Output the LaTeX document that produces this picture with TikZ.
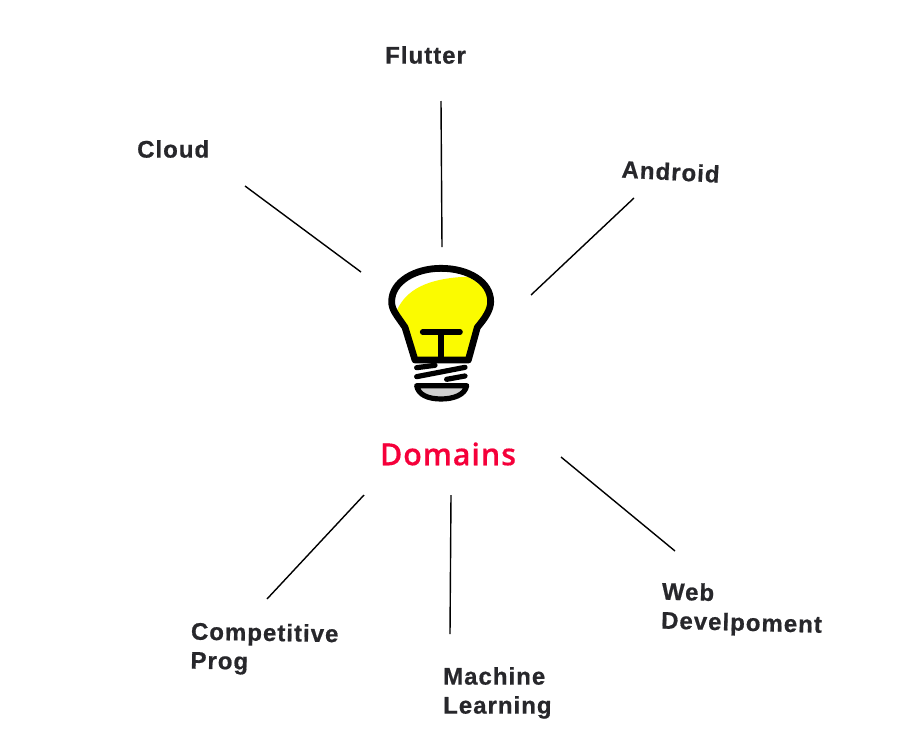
\documentclass[tikz,border=0pt]{standalone}
\usepackage{fontspec}
\setmainfont{Liberation Sans}
\newfontfamily\labfont[LetterSpace=4.2,FakeBold=0.7]{Liberation Sans Bold}
\newfontfamily\domfont[LetterSpace=3,FakeBold=0.4]{Open Sans Semibold}
\definecolor{labelgray}{HTML}{27272B}
\definecolor{domred}{HTML}{F5003A}
\definecolor{bulbyellow}{HTML}{FBFB00}
\definecolor{bulbgray}{HTML}{CFCFCF}
\tikzset{
  spoke/.style={draw=black,line width=1.4pt},
  lab/.style={inner sep=0pt,align=left,anchor=north west,text=labelgray,font=\labfont\fontsize{24}{29}\selectfont},
  bulbline/.style={draw=black,line cap=round,line join=round}
}
\begin{document}
\begin{tikzpicture}[x=1pt,y=-1pt]
\useasboundingbox (0,0) rectangle (908,747);
% bulb
\begin{scope}[shift={(370,250)},x=0.3333pt,y=-0.3333pt]
  \path[fill=white] (135,330) -- (100,225) .. controls (75,195) and (65,180) .. (65,155)
     .. controls (65,95) and (135,55) .. (213,55)
     .. controls (295,55) and (362,95) .. (362,155)
     .. controls (362,180) and (345,205) .. (328,225) -- (295,330) -- cycle;
  \path[fill=bulbyellow] (135,330) -- (100,225) .. controls (92,212) and (85,200) .. (82,178)
     .. controls (110,120) and (170,85) .. (292,80)
     .. controls (335,100) and (362,130) .. (362,155)
     .. controls (362,180) and (345,205) .. (328,225) -- (295,330) -- cycle;
  \draw[bulbline,line width=6.8pt] (135,330) -- (105,232) .. controls (80,195) and (65,180) .. (65,155)
     .. controls (65,95) and (135,55) .. (213,55)
     .. controls (295,55) and (362,95) .. (362,155)
     .. controls (362,180) and (345,205) .. (322,232) -- (295,330) -- cycle;
  \draw[bulbline,line width=5.6pt] (158,246) -- (270,246);
  \draw[bulbline,line width=5.6pt,line cap=butt] (213,246) -- (213,330);
  \draw[bulbline,line width=5.2pt] (140,353) -- (195,346);
  \draw[bulbline,line width=5.2pt] (140,380) -- (285,352);
  \draw[bulbline,line width=5.2pt] (230,388) -- (285,378);
  \draw[bulbline,line width=5.2pt,fill=bulbgray] (140,407) -- (290,407)
     .. controls (285,435) and (250,447) .. (213,447)
     .. controls (175,447) and (145,435) .. (140,407) -- cycle;
\end{scope}
% labels
\node[lab] (flutter) at (385,46) {Flutter};
\node[lab] (cloud) at (137,140) {Cloud};
\node[lab,rotate=-3] (android) at (622,160) {Android};
\node[lab,rotate=-1.5] (web) at (662,582) {Web\\Develpoment};
\node[lab,rotate=-1] (comp) at (191,622) {Competitive\\Prog};
\node[lab] (ml) at (443,667) {Machine\\Learning};
\node[inner sep=0pt,anchor=center,text=domred,font=\domfont\fontsize{30.5}{36}\selectfont] (domains) at (448,454) {Domains};
% connector ends
\coordinate (a1) at (441,101); \coordinate (a2) at (442,247);
\coordinate (b1) at (245,186); \coordinate (b2) at (361,272);
\coordinate (c1) at (634,198); \coordinate (c2) at (531,295);
\coordinate (d1) at (561,457); \coordinate (d2) at (675,551);
\coordinate (e1) at (451,495); \coordinate (e2) at (450,634);
\coordinate (f1) at (364,495); \coordinate (f2) at (267,599);
\draw[spoke] (a1) -- (a2);
\draw[spoke] (b1) -- (b2);
\draw[spoke] (c1) -- (c2);
\draw[spoke] (d1) -- (d2);
\draw[spoke] (e1) -- (e2);
\draw[spoke] (f1) -- (f2);
\end{tikzpicture}
\end{document}
